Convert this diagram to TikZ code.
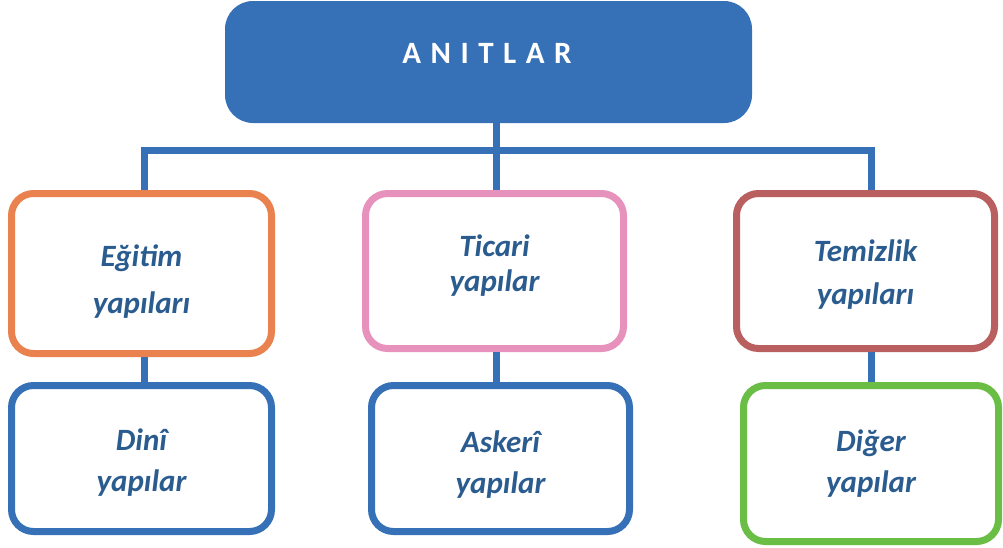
\documentclass[tikz,border=0pt]{standalone}
\usepackage{fontspec}
\setmainfont{Carlito}
\definecolor{anitblue}{RGB}{54,113,184}
\definecolor{textblue}{RGB}{43,92,143}
\definecolor{egitimorange}{RGB}{234,130,80}
\definecolor{ticaripink}{RGB}{231,146,188}
\definecolor{temizlikred}{RGB}{185,95,95}
\definecolor{digergreen}{RGB}{107,190,69}
\begin{document}
\begin{tikzpicture}[x=1pt,y=-1pt,
        box/.style={draw,line width=7pt,rounded corners=22pt,fill=white,inner sep=0pt},
        lbl/.style={text=textblue,font=\fontsize{31}{41}\selectfont\bfseries\itshape,align=center},
        link/.style={draw=anitblue,line width=7pt}]
        \useasboundingbox (0,0) rectangle (1003,547);

        \node[fill=anitblue,rounded corners=28pt,minimum width=527pt,minimum height=122pt,inner sep=0pt] (top) at (488.5,62) {};
        \node[text=white,font=\fontsize{31}{36}\selectfont\bfseries] (title) at (487,53) {\spaceskip=9.5pt A N I T L A R};

        \node[box,draw=egitimorange,minimum width=260pt,minimum height=160pt] (egitim) at (141.5,273.5) {};
        \node[box,draw=ticaripink,minimum width=258pt,minimum height=155pt] (ticari) at (494.5,271) {};
        \node[box,draw=temizlikred,minimum width=258pt,minimum height=155pt] (temizlik) at (865.5,271) {};
        \node[box,draw=anitblue,minimum width=260pt,minimum height=146pt] (dini) at (141.5,458.5) {};
        \node[box,draw=anitblue,minimum width=258pt,minimum height=146pt] (askeri) at (500.5,458.5) {};
        \node[box,draw=digergreen,minimum width=255pt,minimum height=156pt] (diger) at (871,463.5) {};

        \node[lbl] (egitimT) at ([yshift=-8pt]egitim.center) {Eğitim\\[6pt]yapıları};
        \node[lbl] (ticariT) at ([yshift=5pt]ticari.center) {Ticari\\[-6pt]yapılar};
        \node[lbl] (temizlikT) at ([yshift=-3.5pt]temizlik.center) {Temizlik\\[2pt]yapıları};
        \node[lbl] (diniT) at ([yshift=-4pt]dini.center) {Dinî\\yapılar};
        \node[lbl] (askeriT) at ([yshift=-6pt]askeri.center) {Askerî\\yapılar};
        \node[lbl] (digerT) at ([yshift=0pt]diger.center) {Diğer\\yapılar};

        \coordinate (b1) at (144,150.5);
        \coordinate (b2) at (496,150.5);
        \coordinate (b3) at (871,150.5);
        \draw[link] (b1 |- egitim.north) -- (b1) -- (b3) -- (b3 |- temizlik.north);
        \draw[link] (b2 |- top.south) -- (b2 |- ticari.north);
        \draw[link] (b1 |- egitim.south) -- (b1 |- dini.north);
        \draw[link] (b2 |- ticari.south) -- (b2 |- askeri.north);
        \draw[link] (b3 |- temizlik.south) -- (b3 |- diger.north);
\end{tikzpicture}
\end{document}
